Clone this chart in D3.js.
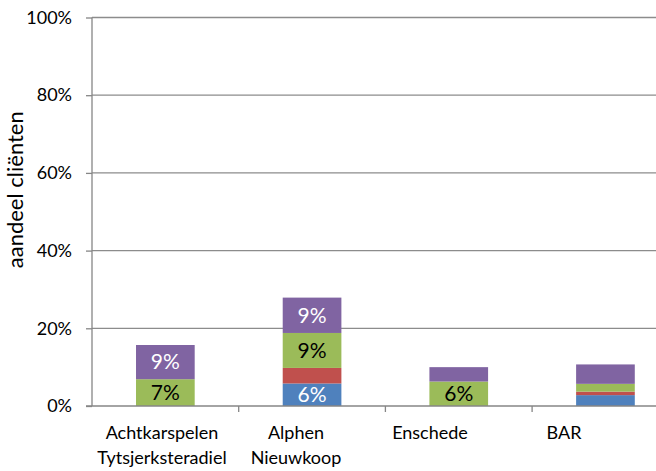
<!DOCTYPE html>
<head>
  <meta charset="utf-8">
  <script src="https://d3js.org/d3.v7.min.js"></script>
  <style>
    body { margin:0; background:#fff; }
    text { font-family: Lato, "Open Sans", sans-serif; fill:#000; }
    .axis path, .axis line { stroke:#868686; stroke-width:1.3; }
    .grid line { stroke:#8c8c8c; stroke-width:1.3; }
    .tick text { font-size:18px; }
    .seg-label { font-size:21px; text-anchor:middle; }
  </style>
</head>
<body>
  <div class="chart"></div>
  <script>
    const categories = [['Achtkarspelen', 'Tytsjerksteradiel'], ['Alphen', 'Nieuwkoop'], ['Enschede'], ['BAR']];
    const keys = ['blauw', 'rood', 'groen', 'paars'];
    const blauw = [0, 5.8, 0, 2.8];
    const rood = [0, 4.0, 0, 0.9];
    const groen = [6.9, 9.0, 6.3, 2.0];
    const paars = [8.8, 9.1, 3.7, 5.0];
    const yTicks = [0, 20, 40, 60, 80, 100];
    const colors = { blauw: '#4f81bd', rood: '#c0504d', groen: '#9bbb59', paars: '#8064a2' };
    const labelColors = { blauw: '#fff', rood: '#fff', groen: '#000', paars: '#fff' };

    const width = 656, height = 471;
    const plotLeft = 92, plotTop = 17.5, plotBottom = 406;
    const step = 146.7;

    const names = categories.map(c => c.join(' '));
    const data = names.map((n, i) => ({
      name: n, blauw: blauw[i], rood: rood[i], groen: groen[i], paars: paars[i]
    }));

    const svg = d3.select('.chart').append('svg')
      .attr('width', width)
      .attr('height', height);

    const x = d3.scaleBand()
      .domain(names)
      .range([plotLeft, plotLeft + step * names.length])
      .paddingInner(0.6)
      .paddingOuter(0.3);

    // category labels sit on their own spacing in the original
    const xLabel = d3.scaleBand()
      .domain(names)
      .range([95, 631]);

    const y = d3.scaleLinear()
      .domain([0, 100])
      .range([plotBottom, plotTop]);

    // gridlines
    svg.append('g')
      .attr('class', 'grid')
      .selectAll('line')
      .data(yTicks.slice(1))
      .enter().append('line')
      .attr('x1', plotLeft).attr('x2', width)
      .attr('y1', d => y(d)).attr('y2', d => y(d));

    const stacked = d3.stack().keys(keys)(data);

    const layer = svg.selectAll('.layer')
      .data(stacked)
      .enter().append('g')
      .attr('class', 'layer')
      .attr('fill', d => colors[d.key]);

    layer.selectAll('rect')
      .data(d => d)
      .enter().append('rect')
      .attr('x', d => x(d.data.name))
      .attr('y', d => y(d[1]))
      .attr('width', x.bandwidth())
      .attr('height', d => y(d[0]) - y(d[1]));

    // value labels for the larger segments
    stacked.forEach(s => {
      svg.selectAll(null)
        .data(s.filter(d => d[1] - d[0] >= 5.5))
        .enter().append('text')
        .attr('class', 'seg-label')
        .attr('x', d => x(d.data.name) + x.bandwidth() / 2)
        .attr('y', d => y((d[0] + d[1]) / 2))
        .attr('dy', '0.35em')
        .style('fill', labelColors[s.key])
        .text(d => Math.round(d[1] - d[0]) + '%');
    });

    // y axis
    const yAxis = d3.axisLeft(y)
      .tickValues(yTicks)
      .tickSize(6)
      .tickPadding(14)
      .tickFormat(d => d + '%');

    svg.append('g')
      .attr('class', 'axis')
      .attr('transform', `translate(${plotLeft},0)`)
      .call(yAxis)
      .call(g => g.select('.domain').attr('d', `M0,${plotTop}V${plotBottom}`));

    // x axis line and ticks
    const xAxis = svg.append('g').attr('class', 'axis');
    xAxis.append('line')
      .attr('x1', plotLeft - 6).attr('x2', width)
      .attr('y1', plotBottom).attr('y2', plotBottom);
    xAxis.selectAll('.xtick')
      .data(names.slice(1))
      .enter().append('line')
      .attr('x1', d => x(d) - x.step() * x.paddingInner() / 2)
      .attr('x2', d => x(d) - x.step() * x.paddingInner() / 2)
      .attr('y1', plotBottom).attr('y2', plotBottom + 6);

    const catText = svg.append('g').selectAll('text')
      .data(categories)
      .enter().append('text')
      .attr('text-anchor', 'middle')
      .attr('x', (d, i) => xLabel(names[i]) + xLabel.bandwidth() / 2)
      .attr('y', 439)
      .style('font-size', '18px');
    catText.selectAll('tspan')
      .data(d => d)
      .enter().append('tspan')
      .attr('x', function() { return this.parentNode.getAttribute('x'); })
      .attr('dy', (d, i) => i === 0 ? 0 : 25)
      .text(d => d);

    // y title
    svg.append('text')
      .attr('transform', `translate(23,${(plotTop + plotBottom) / 2 - 22}) rotate(-90)`)
      .attr('text-anchor', 'middle')
      .style('font-size', '22px')
      .text('aandeel cliënten');
  </script>
</body>
